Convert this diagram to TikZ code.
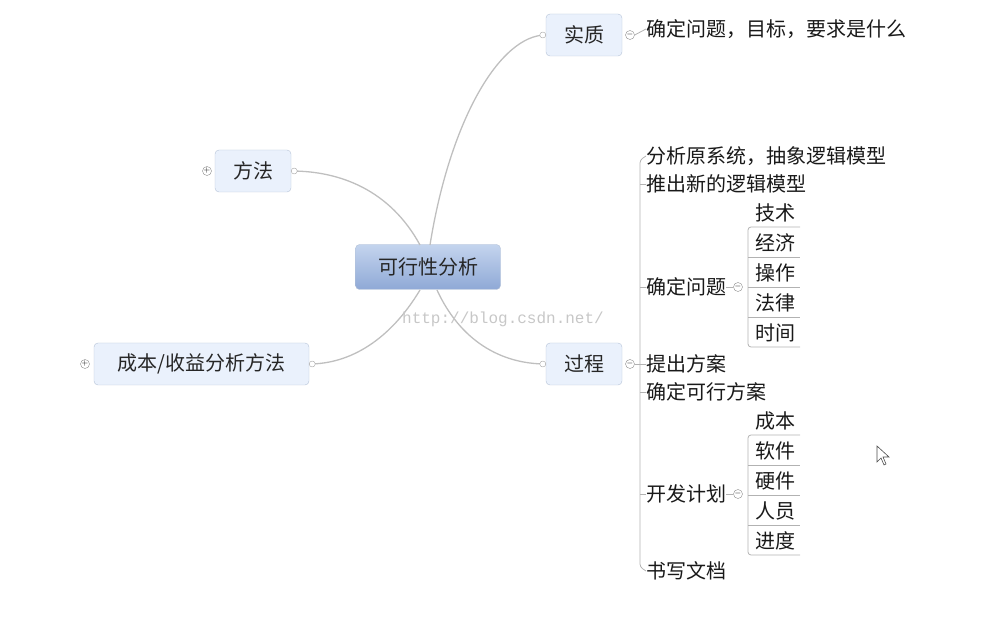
\documentclass[tikz,border=0pt]{standalone}
\usepackage{fontspec}
\setmainfont{Noto Sans CJK SC}
\newfontfamily\wmfont{Liberation Mono}
\definecolor{ctop}{HTML}{C4D4EE}
\definecolor{cbot}{HTML}{8FA9D6}
\definecolor{tfill}{HTML}{EAF1FC}
\definecolor{tline}{HTML}{B5C2D6}
\begin{document}
\begin{tikzpicture}[x=1pt,y=-1pt,
 topic/.style={draw=tline,rounded corners=4pt,fill=tfill,minimum height=42pt,font=\fontsize{20}{21}\selectfont,text=black!85,inner xsep=8pt},
 center/.style={draw=tline,rounded corners=4pt,top color=ctop,bottom color=cbot,minimum height=45pt,minimum width=145pt,font=\fontsize{20}{21}\selectfont,text=black!85},
 txt/.style={anchor=west,font=\fontsize{20}{21}\selectfont,text=black!90,inner sep=0pt},
 conn/.style={draw=black!25,line width=1.3pt},
 thin/.style={draw=black!30,line width=0.8pt},
 dot/.style={circle,draw=black!35,fill=white,inner sep=0pt,minimum size=6pt},
 tog/.style={circle,draw=black!45,fill=white,inner sep=0pt,minimum size=9pt,font=\fontsize{8}{8}\selectfont}]
\useasboundingbox (0,0) rectangle (989,617);
\node[center] (c) at (428,267) {可行性分析};
\node[topic,minimum width=76pt] (sz) at (584,35) {实质};
\node[topic,minimum width=76pt] (ff) at (253,171) {方法};
\node[topic,minimum width=215pt] (cb) at (201.5,364) {成本/收益分析方法};
\node[topic,minimum width=76pt] (gc) at (584,364) {过程};
% curves
\draw[conn] (430,245) .. controls (450,120) and (500,35) .. (sz.west);
\draw[conn] (420,245) .. controls (390,190) and (340,171) .. (ff.east);
\draw[conn] (420,290) .. controls (390,340) and (350,364) .. (cb.east);
\draw[conn] (437,290) .. controls (460,340) and (500,364) .. (gc.west);
\node[dot] at ([xshift=-3pt]sz.west) {};
\node[dot] at ([xshift=3pt]ff.east) {};
\node[dot] at ([xshift=3pt]cb.east) {};
\node[dot] at ([xshift=-3pt]gc.west) {};
\node[tog] (t1) at (630,35) {$-$};
\node[tog] at (207,171) {$+$};
\node[tog] at (85,364) {$+$};
\node[tog] (t2) at (630,364) {$-$};
% 实质 child
\node[txt] (q0) at (646,29) {确定问题，目标，要求是什么};
\draw[thin] (t1.east) -- (q0.west);
% 过程 children
\node[txt] (a1) at (646,156) {分析原系统，抽象逻辑模型};
\node[txt] (a2) at (646,184) {推出新的逻辑模型};
\node[txt] (a3) at (646,287) {确定问题};
\node[txt] (a4) at (646,364) {提出方案};
\node[txt] (a5) at (646,392) {确定可行方案};
\node[txt] (a6) at (646,494) {开发计划};
\node[txt] (a7) at (646,571) {书写文档};
\draw[thin,rounded corners=3pt] (646,156) -- (640,160) -- (640,567) -- (646,571);
\draw[thin] (t2.east) -- (a4.west);
\foreach \n in {a2,a3,a5,a6} \draw[thin] (640,0 |- \n.west) -- (\n.west);
\node[tog] (t3) at (738,287) {$-$};
\node[tog] (t4) at (738,494) {$-$};
\draw[thin] (a3.east) -- (t3.west);
\draw[thin] (a6.east) -- (t4.west);
% sub groups
\foreach \t/\y in {技术/213,经济/243,操作/273,法律/303,时间/333}
  \node[txt] (b\y) at (755,\y) {\t};
\foreach \t/\y in {成本/421,软件/451,硬件/481,人员/511,进度/541}
  \node[txt] (b\y) at (755,\y) {\t};
\foreach \top in {227,435}{
  \draw[thin,rounded corners=3pt] (800,\top) -- (748,\top) -- (748,\top+120) -- (800,\top+120);
  \foreach \k in {30,60,90} \draw[thin] (748,\top+\k) -- (800,\top+\k);
}
% watermark
\node[font=\wmfont\fontsize{16}{16}\selectfont,text=black!22] (wm) at (503,319) {http://blog.csdn.net/};
% cursor
\draw[black!70,fill=white,line width=0.6pt] (877,446) -- (877,462) -- (881,458) -- (884,465) -- (886,464) -- (883,457) -- (889,457) -- cycle;
\end{tikzpicture}
\end{document}
